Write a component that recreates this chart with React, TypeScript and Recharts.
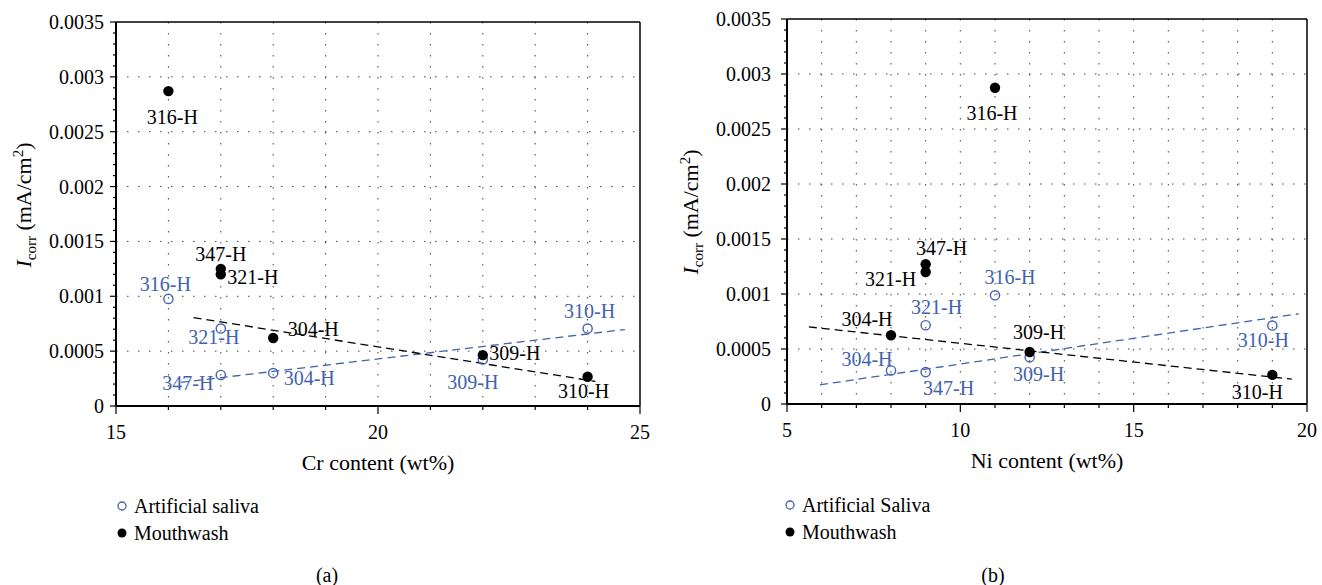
import { ScatterChart, Scatter, XAxis, YAxis, CartesianGrid, ReferenceLine } from 'recharts'

const FONT = '"Liberation Serif", "DejaVu Serif", serif'
const BLUE = '#4262ae'

interface Pt {
  x: number
  y: number
  name: string
}

// (a) corrosion current vs Cr content
const crSaliva: Pt[] = [
  { x: 16, y: 0.000976, name: '316-H' },
  { x: 17, y: 0.000706, name: '321-H' },
  { x: 17, y: 0.000283, name: '347-H' },
  { x: 18, y: 0.0003, name: '304-H' },
  { x: 22, y: 0.000424, name: '309-H' },
  { x: 24, y: 0.000706, name: '310-H' },
]
const crMouthwash: Pt[] = [
  { x: 16, y: 0.00287, name: '316-H' },
  { x: 17, y: 0.00125, name: '347-H' },
  { x: 17, y: 0.0012, name: '321-H' },
  { x: 18, y: 0.00062, name: '304-H' },
  { x: 22, y: 0.000464, name: '309-H' },
  { x: 24, y: 0.000267, name: '310-H' },
]
const crSalivaFit = [
  { x: 16.24, y: 0.000215 },
  { x: 24.71, y: 0.000697 },
]
const crMouthwashFit = [
  { x: 16.48, y: 0.000806 },
  { x: 24.15, y: 0.000224 },
]

// (b) corrosion current vs Ni content
const niSaliva: Pt[] = [
  { x: 8, y: 0.000305, name: '304-H' },
  { x: 9, y: 0.00029, name: '347-H' },
  { x: 9, y: 0.000716, name: '321-H' },
  { x: 11, y: 0.000988, name: '316-H' },
  { x: 12, y: 0.000424, name: '309-H' },
  { x: 19, y: 0.000713, name: '310-H' },
]
const niMouthwash: Pt[] = [
  { x: 8, y: 0.000625, name: '304-H' },
  { x: 9, y: 0.00127, name: '347-H' },
  { x: 9, y: 0.0012, name: '321-H' },
  { x: 11, y: 0.002875, name: '316-H' },
  { x: 12, y: 0.000473, name: '309-H' },
  { x: 19, y: 0.000265, name: '310-H' },
]
const niSalivaFit = [
  { x: 5.95, y: 0.000174 },
  { x: 19.76, y: 0.00082 },
]
const niMouthwashFit = [
  { x: 5.63, y: 0.000701 },
  { x: 19.56, y: 0.000226 },
]

// tick labels
const crMajor = [15, 20, 25]
const niMajor = [5, 10, 15, 20]
const yMajor = [0, 0.0005, 0.001, 0.0015, 0.002, 0.0025, 0.003, 0.0035]
const crTicks = [15, 16, 17, 18, 19, 20, 21, 22, 23, 24, 25]
const niTicks = [5, 6, 7, 8, 9, 10, 11, 12, 13, 14, 15, 16, 17, 18, 19, 20]
const yTicks = Array.from({ length: 36 }, (_, i) => i / 10000)

// label offsets (dx, dy from marker centre)
type Offs = Record<string, [number, number]>
const crSalivaLbl: Offs = {
  '316-H': [-3, -15], '321-H': [-7, 8], '347-H': [-33, 8],
  '304-H': [36, 5], '309-H': [-10, 23], '310-H': [2, -18],
}
const crMouthLbl: Offs = {
  '316-H': [4, 26], '347-H': [0, -15], '321-H': [32, 3],
  '304-H': [40, -9], '309-H': [32, -2], '310-H': [-4, 14],
}
const niSalivaLbl: Offs = {
  '304-H': [-24, -11], '347-H': [23, 16], '321-H': [11, -18],
  '316-H': [15, -18], '309-H': [9, 17], '310-H': [-9, 14],
}
const niMouthLbl: Offs = {
  '304-H': [-24, -16], '347-H': [16, -16], '321-H': [-35, 7],
  '316-H': [-3, 25], '309-H': [9, -20], '310-H': [-15, 17],
}

const isMajorY = (v: number) => Math.round(v * 10000) % 5 === 0
const fmtY = (v: number) => (v === 0 ? '0' : String(+v.toFixed(4)))

function makeShape(filled: boolean, offs: Offs) {
  return (p: any) => {
    const [dx, dy] = offs[p.payload?.name] ?? [0, -15]
    const color = filled ? '#000' : BLUE
    return (
      <g>
        {filled ? (
          <circle cx={p.cx} cy={p.cy} r={5.2} fill="#000" />
        ) : (
          <circle cx={p.cx} cy={p.cy} r={4.6} fill="none" stroke={BLUE} strokeWidth={1.4} />
        )}
        <text
          x={p.cx + dx}
          y={p.cy + dy}
          textAnchor="middle"
          dominantBaseline="central"
          fill={color}
          style={{ fontFamily: FONT, fontSize: 20 }}
        >
          {p.payload?.name}
        </text>
      </g>
    )
  }
}

function YTitle({ tx, ty }: { tx: number; ty: number }) {
  return (
    <text
      x={tx}
      y={ty}
      transform={`rotate(-90 ${tx} ${ty})`}
      textAnchor="middle"
      style={{ fontFamily: FONT, fontSize: 22 }}
      fill="#000"
    >
      <tspan fontStyle="italic">I</tspan>
      <tspan fontSize={15} dy={5}>corr</tspan>
      <tspan dy={-5}>{' (mA/cm'}</tspan>
      <tspan fontSize={15} dy={-8}>2</tspan>
      <tspan dy={8}>)</tspan>
    </text>
  )
}

interface PanelProps {
  margin: { top: number; right: number; bottom: number; left: number }
  xDomain: [number, number]
  xTicks: number[]
  xMajor: number[]
  xTitle: string
  saliva: Pt[]
  mouthwash: Pt[]
  salivaFit: { x: number; y: number }[]
  mouthwashFit: { x: number; y: number }[]
  salivaLbl: Offs
  mouthLbl: Offs
  yLabelGap: number
  yTitleX: number
  yTitleY: number
}

function Panel(props: PanelProps) {
  const { margin, xDomain, xTicks, xMajor, xTitle } = props
  const W = 661
  const H = 585
  const plotLeft = margin.left + 1
  const plotW = W - plotLeft - margin.right
  const bottomY = H - margin.bottom - 1

  const XTick = (t: any) => {
    const major = xMajor.includes(t.payload.value)
    return (
      <g>
        <line x1={t.x} y1={t.y} x2={t.x} y2={t.y + (major ? 8 : 4)} stroke="#000" strokeWidth={1.2} />
        {major && (
          <text x={t.x} y={t.y + 26} textAnchor="middle" dominantBaseline="central" style={{ fontFamily: FONT, fontSize: 20 }} fill="#000">
            {t.payload.value}
          </text>
        )}
      </g>
    )
  }
  const YTick = (t: any) => {
    const major = isMajorY(t.payload.value)
    return (
      <g>
        <line x1={t.x} y1={t.y} x2={t.x - (major ? 6 : 3)} y2={t.y} stroke="#000" strokeWidth={1.2} />
        {major && (
          <text x={t.x - props.yLabelGap} y={t.y} textAnchor="end" dominantBaseline="central" style={{ fontFamily: FONT, fontSize: 20 }} fill="#000">
            {fmtY(t.payload.value)}
          </text>
        )}
      </g>
    )
  }

  return (
    <ScatterChart width={W} height={H} margin={margin}>
      <CartesianGrid
        stroke="#444"
        strokeDasharray="1.5 9.5"
        horizontalValues={yMajor.slice(1, -1)}
        verticalValues={xTicks.slice(1, -1)}
      />
      <XAxis
        type="number"
        dataKey="x"
        domain={xDomain}
        ticks={xTicks}
        interval={0}
        height={1}
        tickSize={0}
        tickMargin={0}
        tickLine={false}
        axisLine={{ stroke: '#000', strokeWidth: 2 }}
        tick={XTick}
        allowDataOverflow
      />
      <YAxis
        type="number"
        dataKey="y"
        domain={[0, 0.0035]}
        ticks={yTicks}
        interval={0}
        width={1}
        tickSize={0}
        tickMargin={0}
        tickLine={false}
        axisLine={{ stroke: '#000', strokeWidth: 2 }}
        tick={YTick}
        allowDataOverflow
      />
      <ReferenceLine y={0.0035} stroke="#000" strokeWidth={1.5} />
      <ReferenceLine x={xDomain[1]} stroke="#000" strokeWidth={1.5} />
      <Scatter
        data={props.salivaFit}
        line={{ stroke: BLUE, strokeWidth: 1.3, strokeDasharray: '8 5' }}
        shape={() => <g />}
        isAnimationActive={false}
      />
      <Scatter
        data={props.mouthwashFit}
        line={{ stroke: '#000', strokeWidth: 1.3, strokeDasharray: '8 5' }}
        shape={() => <g />}
        isAnimationActive={false}
      />
      <Scatter data={props.saliva} shape={makeShape(false, props.salivaLbl)} isAnimationActive={false} />
      <Scatter data={props.mouthwash} shape={makeShape(true, props.mouthLbl)} isAnimationActive={false} />
      <text
        x={plotLeft + plotW / 2}
        y={bottomY + 56}
        textAnchor="middle"
        dominantBaseline="central"
        style={{ fontFamily: FONT, fontSize: 22 }}
        fill="#000"
      >
        {xTitle}
      </text>
      <YTitle tx={props.yTitleX} ty={props.yTitleY} />
    </ScatterChart>
  )
}

function LegendBox({ left, top, first, caption, captionX }: { left: number; top: number; first: string; caption: string; captionX: number }) {
  const row: React.CSSProperties = { display: 'flex', alignItems: 'center', height: 26.6 }
  return (
    <>
      <div style={{ position: 'absolute', left, top, fontFamily: FONT, fontSize: 20, lineHeight: '26px' }}>
        <div style={row}>
          <svg width={18} height={12}><circle cx={6} cy={6} r={4} fill="none" stroke={BLUE} strokeWidth={1.3} /></svg>
          <span>{first}</span>
        </div>
        <div style={row}>
          <svg width={18} height={12}><circle cx={6} cy={6} r={4.5} fill="#000" /></svg>
          <span>Mouthwash</span>
        </div>
      </div>
      <div style={{ position: 'absolute', left: captionX - 30, width: 60, top: 564, textAlign: 'center', fontFamily: FONT, fontSize: 20 }}>
        {caption}
      </div>
    </>
  )
}

export default function App() {
  return (
    <div style={{ position: 'absolute', left: 0, top: 0, width: 1322, height: 585, background: '#fff', overflow: 'hidden', fontFamily: FONT }}>
      <div style={{ position: 'absolute', left: 0, top: 0 }}>
        <Panel
          margin={{ top: 22, right: 21, bottom: 178, left: 115 }}
          xDomain={[15, 25]}
          xTicks={crTicks}
          xMajor={crMajor}
          xTitle="Cr content (wt%)"
          saliva={crSaliva}
          mouthwash={crMouthwash}
          salivaFit={crSalivaFit}
          mouthwashFit={crMouthwashFit}
          salivaLbl={crSalivaLbl}
          mouthLbl={crMouthLbl}
          yLabelGap={12}
          yTitleX={31}
          yTitleY={205}
        />
      </div>
      <div style={{ position: 'absolute', left: 661, top: 0 }}>
        <Panel
          margin={{ top: 19, right: 15, bottom: 180, left: 125 }}
          xDomain={[5, 20]}
          xTicks={niTicks}
          xMajor={niMajor}
          xTitle="Ni content (wt%)"
          saliva={niSaliva}
          mouthwash={niMouthwash}
          salivaFit={niSalivaFit}
          mouthwashFit={niMouthwashFit}
          salivaLbl={niSalivaLbl}
          mouthLbl={niMouthLbl}
          yLabelGap={16}
          yTitleX={37}
          yTitleY={212}
        />
      </div>
      <LegendBox left={116} top={493} first="Artificial saliva" caption="(a)" captionX={327} />
      <LegendBox left={784} top={492} first="Artificial Saliva" caption="(b)" captionX={993} />
    </div>
  )
}
